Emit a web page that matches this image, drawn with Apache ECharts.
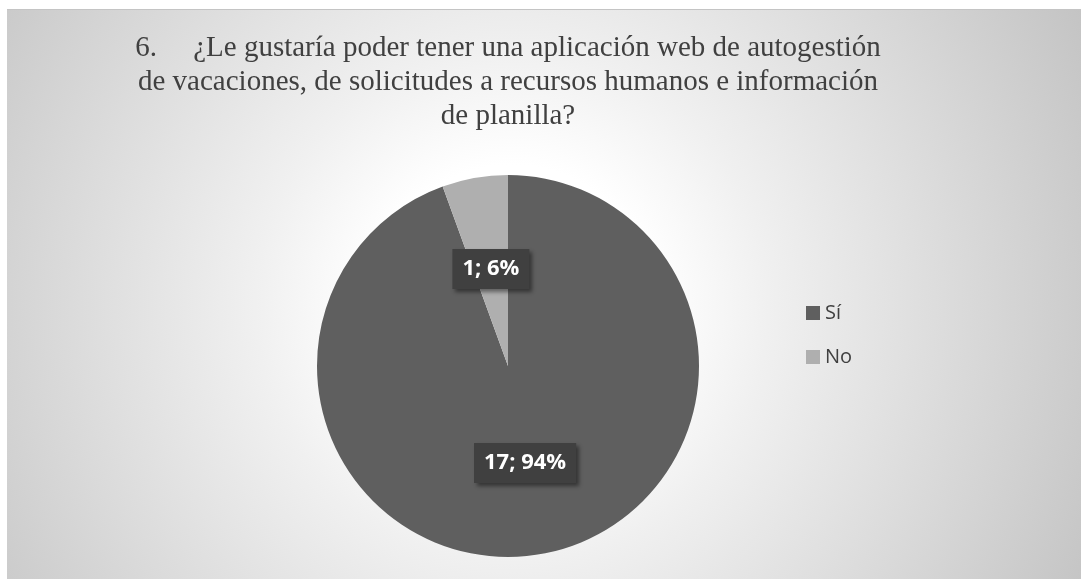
<!DOCTYPE html>
<html>
<head>
<meta charset="utf-8">
<script src="https://cdn.jsdelivr.net/npm/echarts@6/dist/echarts.min.js"></script>
<style>
  html, body { margin: 0; padding: 0; background: #ffffff; }
  #wrap { position: relative; width: 1081px; height: 579px; overflow: hidden; }
  #chart {
    position: absolute; left: 7px; top: 9px; width: 1074px; height: 570px;
    box-sizing: border-box; border-top: 1px solid #c4c4c4;
    background: radial-gradient(circle farthest-corner at 47% 52%, #ffffff 0%, #ffffff 22%, #f0f0f0 40%, #c4c4c4 100%);
  }
</style>
</head>
<body>
<div id="wrap"><div id="chart"></div></div>
<script>
const titleLines = [
  '6.\u00a0\u00a0\u00a0\u00a0\u00a0¿Le gustaría poder tener una aplicación web de autogestión',
  'de vacaciones, de solicitudes a recursos humanos e información',
  'de planilla?'
];
const categories = ['Sí', 'No'];
const values = [17, 1];
const colors = ['#5f5f5f', '#afafaf'];

const chart = echarts.init(document.getElementById('chart'), null, { renderer: 'canvas' });
chart.setOption({
  backgroundColor: 'transparent',
  animation: false,
  title: {
    text: titleLines.join('\n'),
    left: 501,
    top: 21,
    textAlign: 'center',
    padding: 0,
    textStyle: {
      fontFamily: '"Liberation Serif", "Times New Roman", serif',
      fontSize: 29,
      fontWeight: 'normal',
      color: '#404040',
      lineHeight: 34
    }
  },
  legend: {
    orient: 'vertical',
    left: 799,
    top: 293,
    padding: 0,
    itemWidth: 14,
    itemHeight: 14,
    itemGap: 24,
    icon: 'rect',
    selectedMode: false,
    data: categories,
    textStyle: {
      fontFamily: '"Open Sans", sans-serif',
      fontSize: 20,
      lineHeight: 20,
      color: '#404040'
    }
  },
  series: [{
    type: 'pie',
    center: [501, 356],
    radius: [0, 191],
    startAngle: 90,
    clockwise: true,
    percentPrecision: 0,
    silent: true,
    data: categories.map((c, i) => ({ name: c, value: values[i], itemStyle: { color: colors[i] } })),
    itemStyle: { borderWidth: 0 },
    label: {
      show: true,
      position: 'inside',
      formatter: '{c}; {d}%',
      fontFamily: '"Open Sans", sans-serif',
      fontWeight: 'bold',
      fontSize: 22,
      color: '#ffffff',
      backgroundColor: '#404040',
      padding: [10, 10, 8, 10],
      shadowColor: 'rgba(0,0,0,0.45)',
      shadowBlur: 4,
      shadowOffsetX: 3,
      shadowOffsetY: 3
    },
    labelLine: { show: false },
    emphasis: { disabled: true }
  }]
});
</script>
</body>
</html>
